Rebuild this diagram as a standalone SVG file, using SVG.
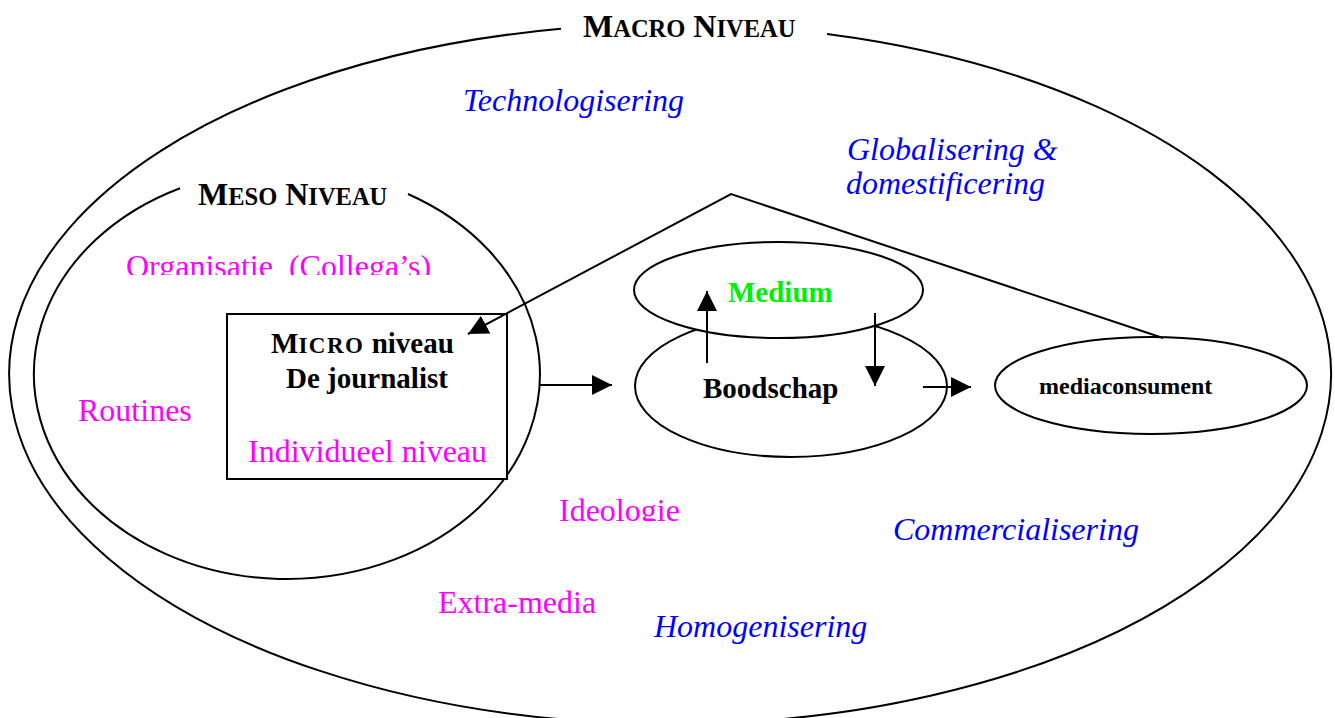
<svg xmlns="http://www.w3.org/2000/svg" width="1335" height="718" viewBox="0 0 1335 718">
  <style>
    .ln { fill: none; stroke: #000; stroke-width: 2; }
    .box { fill: #fff; stroke: #000; stroke-width: 2; }
    .t { font-family: "Liberation Serif", "Times New Roman", serif; }
    .hdr { font-size: 32px; font-weight: bold; fill: #000; }
    .sc { font-size: 24.5px; }
    .bold { font-size: 29px; font-weight: bold; fill: #000; }
    .mag { font-size: 32px; fill: #ff00ff; }
    .blue { font-size: 32px; font-style: italic; fill: #0000ff; }
  </style>
  <defs>
    <marker id="ah" markerUnits="userSpaceOnUse" markerWidth="20" markerHeight="20" refX="20" refY="10" orient="auto">
      <path d="M0,0 L20,10 L0,20 z" fill="#000"/>
    </marker>
    <clipPath id="clipOrg"><rect x="100" y="230" width="360" height="45"/></clipPath>
    <clipPath id="clipIdeo"><rect x="540" y="480" width="160" height="41"/></clipPath>
  </defs>

  <!-- macro level: outer ellipse, open at the top for its title -->
  <g id="macro">
    <path class="ln" d="M827,34 A661,350 0 1 1 561,28.8"/>
    <text class="t hdr" x="583" y="37">M<tspan class="sc">ACRO</tspan> N<tspan class="sc">IVEAU</tspan></text>
  </g>

  <!-- meso level: inner ellipse, open at the top for its title -->
  <g id="meso">
    <path class="ln" d="M408,194 A253,205 0 1 1 180,188.2"/>
    <text class="t hdr" x="198" y="205">M<tspan class="sc">ESO</tspan> N<tspan class="sc">IVEAU</tspan></text>
  </g>

  <!-- micro level: the journalist -->
  <g id="micro">
    <rect class="box" x="227" y="314" width="280" height="165"/>
    <text class="t bold" x="271" y="353">M<tspan font-size="23" letter-spacing="1.5">ICRO</tspan> niveau</text>
    <text class="t bold" x="286" y="388">De journalist</text>
    <text class="t mag" x="248" y="462">Individueel niveau</text>
  </g>

  <!-- message, drawn beneath the medium -->
  <g id="boodschap">
    <ellipse class="box" cx="791" cy="386" rx="156" ry="71"/>
    <text class="t bold" x="703" y="398">Boodschap</text>
  </g>

  <g id="medium">
    <ellipse class="box" cx="778.5" cy="290" rx="144.5" ry="48"/>
    <text class="t bold" x="728" y="302" style="fill:#00f000">Medium</text>
  </g>

  <g id="mediaconsument">
    <ellipse class="box" cx="1151" cy="385.5" rx="156" ry="48.5"/>
    <text class="t" x="1039" y="394" font-size="24" font-weight="bold">mediaconsument</text>
  </g>

  <!-- influences at each level -->
  <g id="labels">
    <text class="t blue" x="463" y="111">Technologisering</text>
    <text class="t blue" x="847" y="160">Globalisering &amp;</text>
    <text class="t blue" x="846" y="194">domestificering</text>
    <text class="t mag" x="126" y="277" clip-path="url(#clipOrg)" xml:space="preserve">Organisatie  (Collega’s)</text>
    <text class="t mag" x="78" y="421">Routines</text>
    <text class="t mag" x="559" y="521" clip-path="url(#clipIdeo)">Ideologie</text>
    <text class="t blue" x="893" y="540">Commercialisering</text>
    <text class="t mag" x="438" y="613">Extra-media</text>
    <text class="t blue" x="654" y="637">Homogenisering</text>
  </g>

  <g id="connectors">
    <path class="ln" d="M539,385 L612,385" marker-end="url(#ah)"/>
    <path class="ln" d="M707,363 L707,291" marker-end="url(#ah)"/>
    <path class="ln" d="M875,313 L875,386" marker-end="url(#ah)"/>
    <path class="ln" d="M923,387 L971,387" marker-end="url(#ah)"/>
    <path class="ln" d="M1163,338 L731,194 L468,334" marker-end="url(#ah)"/>
  </g>
</svg>
